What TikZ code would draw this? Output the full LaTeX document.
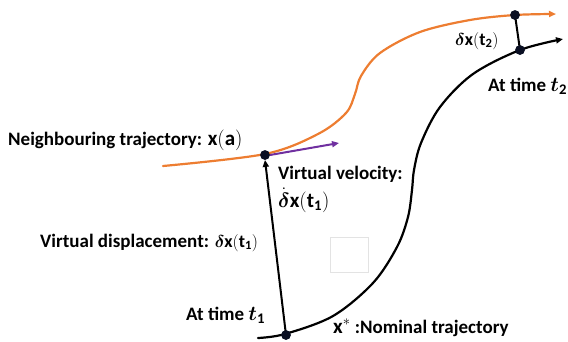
\documentclass[tikz,border=0pt]{standalone}
\usepackage{amsmath}
\usepackage{fontspec}
\setmainfont{Carlito}
\usetikzlibrary{arrows.meta}
\definecolor{traj}{RGB}{237,125,49}
\definecolor{vel}{RGB}{112,48,160}
\definecolor{dotc}{RGB}{10,15,35}
\newcommand{\mth}[1]{{\fontsize{21}{24}\selectfont$#1$}}
\newcommand{\mths}[1]{{\fontsize{18}{21}\selectfont$#1$}}
\tikzset{
  curve/.style={line width=2.2pt, line cap=round},
  tip/.style={-{Triangle[length=7pt,width=6pt]}},
  dotnode/.style={circle, fill=dotc, inner sep=0pt, minimum size=9.5pt},
  lbl/.style={font=\fontsize{19}{22}\selectfont\bfseries, inner sep=0pt, anchor=base west},
}
\begin{document}
\begin{tikzpicture}[x=1pt,y=-1pt]
\useasboundingbox (0,0) rectangle (568,341);
% faint square
\draw[draw=gray!22, line width=0.8pt] (330,237) rectangle (368,272);
% nominal trajectory
\draw[curve, tip, black] plot[smooth, tension=0.55] coordinates {(258,338) (285,334) (333,316) (373,283) (397,247) (408,217) (412,190) (414,170) (421,143) (440,107) (473,74) (520,50) (563,39)};
% neighbouring trajectory
\draw[curve, tip, traj] plot[smooth, tension=0.55] coordinates {(163,166) (265,154) (318,134) (346,113) (355,94) (361,76) (380,53) (420,32) (470,20) (515,15) (556,14)};
% dots
\node[dotnode] (a1) at (265,155) {};
\node[dotnode] (n1) at (286,335) {};
\node[dotnode] (a2) at (515,15) {};
\node[dotnode] (n2) at (520,50) {};
\coordinate (v1) at (339,143);
% connectors
\draw[line width=2pt, black, -{Triangle[length=7pt,width=6pt]}] (n1.center) -- (a1.south);
\draw[line width=2pt, black] (n2.center) -- (a2.center);
\draw[line width=2pt, vel, -{Triangle[length=7pt,width=6pt]}] (a1.east) -- (v1);
\node[dotnode] at (a1) {};
\node[dotnode] at (n1) {};
\node[dotnode] at (a2) {};
\node[dotnode] at (n2) {};
% labels
\node[lbl] (l1) at (8,145) {Neighbouring trajectory: \mth{\mathbf{x}(\mathbf{a})}};
\node[lbl] (l2) at (278,179) {Virtual velocity:};
\node[lbl] (l3) at (278,207) {\mth{\dot{\boldsymbol{\delta}}\mathbf{x}(\mathbf{t}_{\mathbf{1}})}};
\node[lbl] (l4) at (40,247) {Virtual displacement: \mths{\boldsymbol{\delta}\mathbf{x}(\mathbf{t}_{\mathbf{1}})}};
\node[lbl] (l5) at (186,320) {At time \mth{\boldsymbol{t}_{\mathbf{1}}}};
\node[lbl] (l6) at (333,333) {\mth{\mathbf{x}^{*}} :Nominal trajectory};
\node[lbl] (l7) at (455,45) {\mths{\boldsymbol{\delta}\mathbf{x}(\mathbf{t}_{\mathbf{2}})}};
\node[lbl] (l8) at (488,91) {At time \mth{\boldsymbol{t}_{\mathbf{2}}}};
\end{tikzpicture}
\end{document}
